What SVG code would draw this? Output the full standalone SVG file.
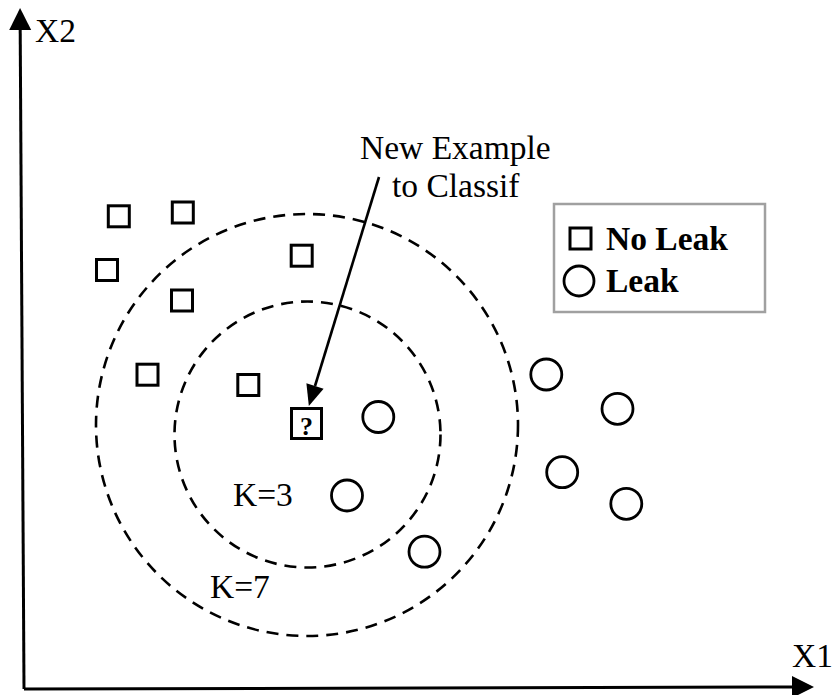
<svg xmlns="http://www.w3.org/2000/svg" width="832" height="695" viewBox="0 0 832 695">
  <style>
    .sq { fill: #fff; stroke: #000; stroke-width: 3; }
    .pt { fill: #fff; stroke: #000; stroke-width: 2.8; }
    .ring { fill: none; stroke: #000; stroke-width: 2.6; stroke-dasharray: 12 8; }
    .axis { fill: none; stroke: #000; stroke-width: 3; }
    .lbl { font-family: "Liberation Serif", "Times New Roman", serif; font-size: 33.5px; fill: #000; }
    .bold { font-weight: bold; }
  </style>
  <defs>
    <marker id="head" markerUnits="userSpaceOnUse" markerWidth="22" markerHeight="22" refX="0" refY="11" orient="auto" overflow="visible">
      <path d="M0,0 L22,11 L0,22 z" fill="#000"/>
    </marker>
    <marker id="ptr" markerUnits="userSpaceOnUse" markerWidth="21" markerHeight="18" refX="0" refY="9" orient="auto" overflow="visible">
      <path d="M0,0 L21,9 L0,18 z" fill="#000"/>
    </marker>
  </defs>
  <rect width="832" height="695" fill="#fff"/>

  <g id="connectors">
    <line id="axis-x2" class="axis" x1="24" y1="689" x2="20.2" y2="30" marker-end="url(#head)"/>
    <line id="axis-x1" class="axis" x1="24" y1="689" x2="792" y2="687" marker-end="url(#head)"/>
    <line id="pointer" class="axis" style="stroke-width:2.6" x1="379" y1="177" x2="315" y2="386" marker-end="url(#ptr)"/>
  </g>

  <g id="k7-ring"><circle class="ring" cx="307" cy="425" r="211"/></g>
  <g id="k3-ring"><circle class="ring" cx="307.5" cy="434.5" r="133"/></g>

  <g id="axis-labels">
    <text class="lbl" x="35" y="42">X2</text>
    <text class="lbl" x="792" y="667">X1</text>
  </g>

  <g id="note">
    <text class="lbl" x="360" y="159">New Example</text>
    <text class="lbl" x="392" y="197">to Classif</text>
  </g>

  <g id="no-leak-points">
    <rect class="sq" x="108.3" y="205.8" width="21" height="21"/>
    <rect class="sq" x="172.3" y="202" width="21" height="21"/>
    <rect class="sq" x="96.5" y="259.5" width="21" height="21"/>
    <rect class="sq" x="171.5" y="290" width="21" height="21"/>
    <rect class="sq" x="291.2" y="245.2" width="21" height="21"/>
    <rect class="sq" x="137" y="364.2" width="21" height="21"/>
    <rect class="sq" x="237.8" y="374.5" width="21" height="21"/>
  </g>

  <g id="query">
    <rect class="sq" x="291.5" y="408.5" width="30" height="30"/>
    <text class="lbl bold" x="306.5" y="435" style="font-size:26px" text-anchor="middle">?</text>
  </g>

  <g id="leak-points">
    <circle class="pt" cx="378.3" cy="417" r="15.5"/>
    <circle class="pt" cx="347" cy="495.5" r="15.5"/>
    <circle class="pt" cx="424.5" cy="551.7" r="15.5"/>
    <circle class="pt" cx="546.3" cy="374.5" r="15.5"/>
    <circle class="pt" cx="617.5" cy="408.8" r="15.5"/>
    <circle class="pt" cx="562.2" cy="472.2" r="15.5"/>
    <circle class="pt" cx="626.3" cy="503.8" r="15.5"/>
  </g>

  <g id="k-labels">
    <text class="lbl" x="233" y="506">K=3</text>
    <text class="lbl" x="210" y="598">K=7</text>
  </g>

  <g id="legend">
    <rect x="554" y="204" width="211" height="108" fill="#fff" stroke="#a0a0a0" stroke-width="2.5"/>
    <rect class="sq" x="570" y="228" width="21" height="21"/>
    <text class="lbl bold" x="606" y="250">No Leak</text>
    <circle class="pt" cx="579" cy="281" r="15"/>
    <text class="lbl bold" x="606" y="292">Leak</text>
  </g>
</svg>
